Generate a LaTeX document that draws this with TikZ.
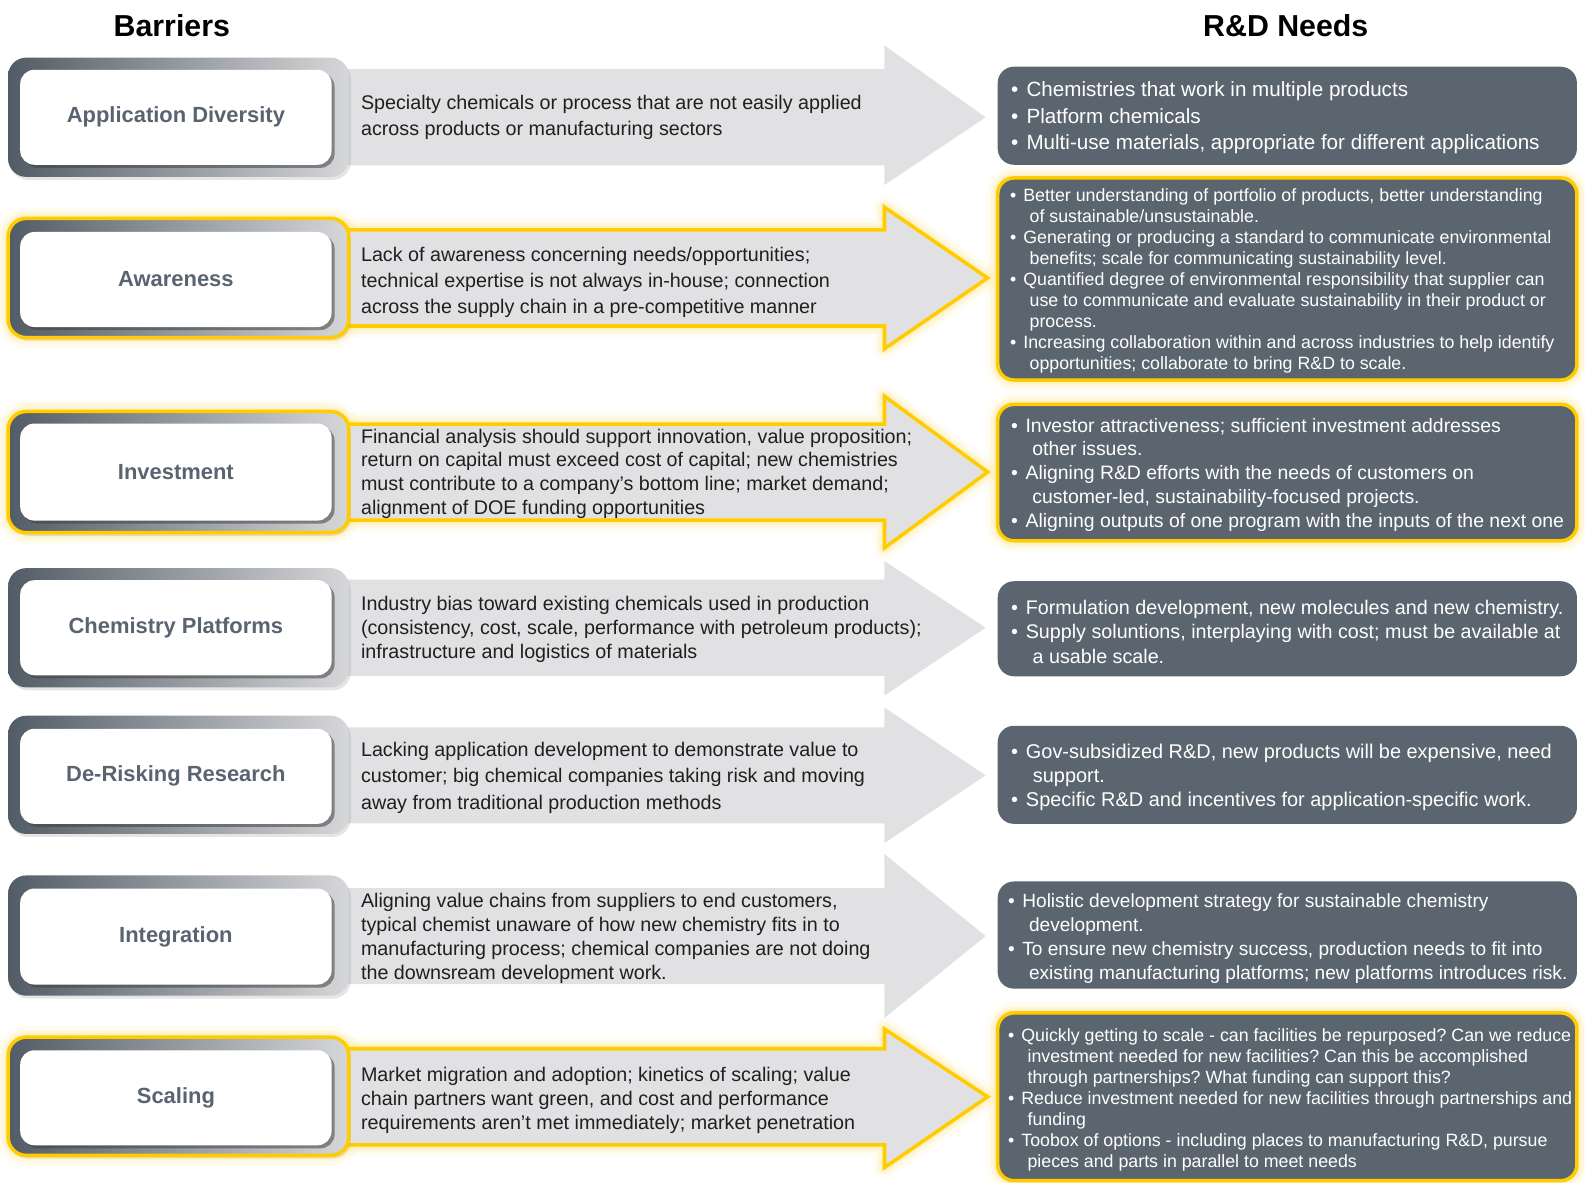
\documentclass[tikz,border=0pt]{standalone}
\usepackage{fontspec}
\setmainfont{Liberation Sans}
\usetikzlibrary{shadows}
\definecolor{slate}{HTML}{5B6570}
\definecolor{labgray}{HTML}{5A6470}
\definecolor{arrowgray}{HTML}{E1E1E3}
\definecolor{ylw}{HTML}{FFCC00}
\definecolor{glowc}{HTML}{FFE37A}
\definecolor{framedark}{HTML}{525C66}
\definecolor{framelight}{HTML}{D6D7D9}
\frenchspacing
\newcommand{\bul}{\textbullet\hspace{0.4em}}
\newcommand{\ind}{\hspace*{1.1em}}
\newcommand{\arrowshape}[4]{(330,#1-47.5) -- (875,#1-47.5) -- (875,#2) -- (#4,#1) -- (875,#3) -- (875,#1+47.5) -- (330,#1+47.5) -- cycle}
\tikzset{
 barframe/.style={rounded corners=18pt, left color=framedark, right color=framelight, minimum width=337pt, minimum height=118pt, inner sep=0pt, drop shadow={shadow xshift=2pt, shadow yshift=-3pt, opacity=0.2}},
 hlframe/.style={barframe, draw=ylw, line width=3.5pt},
 barlabel/.style={rounded corners=14pt, fill=white, minimum width=308pt, minimum height=94pt, font=\fontsize{21.7}{25}\selectfont\bfseries, text=labgray, drop shadow={shadow xshift=3pt, shadow yshift=-3pt, opacity=0.55, fill=black!75}},
 arr/.style={fill=arrowgray},
 hlarr/.style={fill=arrowgray, draw=ylw, line width=3.5pt, line join=miter},
 atext/.style={anchor=west, align=left, inner sep=0pt, text=black!88, font=\fontsize{19.5}{26}\selectfont},
 rdbox/.style={rounded corners=16pt, fill=slate, minimum width=573pt, inner sep=0pt},
 hlrd/.style={rdbox, draw=ylw, line width=3.5pt},
 rdtext/.style={anchor=west, align=left, inner sep=0pt, text=white},
 small/.style={font=\fontsize{17.6}{20.8}\selectfont},
 header/.style={font=\fontsize{30}{34}\selectfont\bfseries, text=black},
}
\begin{document}
\begin{tikzpicture}[x=1pt,y=-1pt]
\useasboundingbox (0,0) rectangle (1568,1170);
\fill[white] (0,0) rectangle (1568,1170);

\node[header] (h1) at (170,25) {Barriers};
\node[header] (h2) at (1272,25) {R\&D Needs};

% ---------- Row 1
\fill[arr] \arrowshape{116}{45}{183}{975};
\node[barframe] (f1) at (176.5,116) {};
\node[barlabel] (b1) at (174,116) {Application Diversity};
\node[atext] (t1) at (357,116) {Specialty chemicals or process that are not easily applied\\across products or manufacturing sectors};
\node[rdbox, minimum height=97pt] (r1) at (1273.5,114.5) {};
\node[rdtext, font=\fontsize{20.4}{26}\selectfont] (s1) at (1000,116.5) {\bul Chemistries that work in multiple products\\\bul Platform chemicals\\\bul Multi-use materials, appropriate for different applications};

% ---------- Row 2 (highlighted)
\foreach \w/\o in {22/0.10,14/0.16,8/0.22}{
 \draw[draw=glowc, line width=\w pt, opacity=\o, line join=round] \arrowshape{275}{205}{345}{977};
 \draw[draw=glowc, line width=\w pt, opacity=\o, rounded corners=18pt] (8,216) rectangle (345,334);
 \draw[draw=glowc, line width=\w pt, opacity=\o, rounded corners=16pt] (987,176) rectangle (1560,376);
}
\draw[hlarr] \arrowshape{275}{205}{345}{977};
\node[hlframe] (f2) at (176.5,275) {};
\node[barlabel] (b2) at (174,276.5) {Awareness};
\node[atext] (t2) at (357,279.5) {Lack of awareness concerning needs/opportunities;\\technical expertise is not always in-house; connection\\across the supply chain in a pre-competitive manner};
\node[hlrd, minimum height=200pt] (r2) at (1273.5,276) {};
\node[rdtext, small] (s2) at (999,278) {\bul Better understanding of portfolio of products, better understanding\\\ind of sustainable/unsustainable.\\\bul Generating or producing a standard to communicate environmental\\\ind benefits; scale for communicating sustainability level.\\\bul Quantified degree of environmental responsibility that supplier can\\\ind use to communicate and evaluate sustainability in their product or\\\ind process.\\\bul Increasing collaboration within and across industries to help identify\\\ind opportunities; collaborate to bring R\&D to scale.};

% ---------- Row 3 (highlighted)
\foreach \w/\o in {22/0.10,14/0.16,8/0.22}{
 \draw[draw=glowc, line width=\w pt, opacity=\o, line join=round] \arrowshape{467}{392}{542}{977};
 \draw[draw=glowc, line width=\w pt, opacity=\o, rounded corners=18pt] (8,407) rectangle (345,527);
 \draw[draw=glowc, line width=\w pt, opacity=\o, rounded corners=16pt] (987,400) rectangle (1560,535);
}
\draw[hlarr] \arrowshape{467}{392}{542}{977};
\node[hlframe, minimum height=120pt] (f3) at (176.5,467) {};
\node[barlabel, minimum height=96pt] (b3) at (174,467) {Investment};
\node[atext, font=\fontsize{19.5}{23.5}\selectfont] (t3) at (357,468.5) {Financial analysis should support innovation, value proposition;\\return on capital must exceed cost of capital; new chemistries\\must contribute to a company's bottom line; market demand;\\alignment of DOE funding opportunities};
\node[hlrd, minimum height=135pt] (r3) at (1273.5,467.5) {};
\node[rdtext, font=\fontsize{19.2}{23.5}\selectfont] (s3) at (1000,469.5) {\bul Investor attractiveness; sufficient investment addresses\\\ind other issues.\\\bul Aligning R\&D efforts with the needs of customers on\\\ind customer-led, sustainability-focused projects.\\\bul Aligning outputs of one program with the inputs of the next one};

% ---------- Row 4
\fill[arr] \arrowshape{621}{555}{688}{975};
\node[barframe] (f4) at (176.5,621) {};
\node[barlabel] (b4) at (174,621) {Chemistry Platforms};
\node[atext, font=\fontsize{19.5}{23.5}\selectfont] (t4) at (357,622.5) {Industry bias toward existing chemicals used in production\\(consistency, cost, scale, performance with petroleum products);\\infrastructure and logistics of materials};
\node[rdbox, minimum height=94pt] (r4) at (1273.5,622) {};
\node[rdtext, font=\fontsize{19.5}{24}\selectfont] (s4) at (1000,625) {\bul Formulation development, new molecules and new chemistry.\\\bul Supply soluntions, interplaying with cost; must be available at\\\ind a usable scale.};

% ---------- Row 5
\fill[arr] \arrowshape{767}{700}{834}{975};
\node[barframe, minimum height=117pt] (f5) at (176.5,766.5) {};
\node[barlabel] (b5) at (174,768) {De-Risking Research};
\node[atext] (t5) at (357,769.5) {Lacking application development to demonstrate value to\\customer; big chemical companies taking risk and moving\\away from traditional production methods};
\node[rdbox, minimum height=97pt] (r5) at (1273.5,766.5) {};
\node[rdtext, font=\fontsize{19.7}{23.5}\selectfont] (s5) at (1000,769) {\bul Gov-subsidized R\&D, new products will be expensive, need\\\ind support.\\\bul Specific R\&D and incentives for application-specific work.};

% ---------- Row 6
\fill[arr] \arrowshape{926}{845}{1007}{975};
\node[barframe, minimum height=119pt] (f6) at (176.5,925.5) {};
\node[barlabel, minimum height=95pt] (b6) at (174,926.5) {Integration};
\node[atext, font=\fontsize{19.5}{23.7}\selectfont] (t6) at (357,928.5) {Aligning value chains from suppliers to end customers,\\typical chemist unaware of how new chemistry fits in to\\manufacturing process; chemical companies are not doing\\the downsream development work.};
\node[rdbox, minimum height=106pt] (r6) at (1273.5,925) {};
\node[rdtext, font=\fontsize{18.9}{23.7}\selectfont] (s6) at (997,928.5) {\bul Holistic development strategy for sustainable chemistry\\\ind development.\\\bul To ensure new chemistry success, production needs to fit into\\\ind existing manufacturing platforms; new platforms introduces risk.};

% ---------- Row 7 (highlighted)
\foreach \w/\o in {22/0.10,14/0.16,8/0.22}{
 \draw[draw=glowc, line width=\w pt, opacity=\o, line join=round] \arrowshape{1085}{1018}{1155}{977};
 \draw[draw=glowc, line width=\w pt, opacity=\o, rounded corners=18pt] (8,1026) rectangle (345,1143);
 \draw[draw=glowc, line width=\w pt, opacity=\o, rounded corners=16pt] (987,1002) rectangle (1560,1168);
}
\draw[hlarr] \arrowshape{1085}{1018}{1155}{977};
\node[hlframe, minimum height=117pt] (f7) at (176.5,1084.5) {};
\node[barlabel] (b7) at (174,1086) {Scaling};
\node[atext, font=\fontsize{19.5}{23.5}\selectfont] (t7) at (357,1088.5) {Market migration and adoption; kinetics of scaling; value\\chain partners want green, and cost and performance\\requirements aren't met immediately; market penetration};
\node[hlrd, minimum height=166pt] (r7) at (1273.5,1085) {};
\node[rdtext, small] (s7) at (997,1088) {\bul Quickly getting to scale - can facilities be repurposed? Can we reduce\\\ind investment needed for new facilities? Can this be accomplished\\\ind through partnerships? What funding can support this?\\\bul Reduce investment needed for new facilities through partnerships and\\\ind funding\\\bul Toobox of options - including places to manufacturing R\&D, pursue\\\ind pieces and parts in parallel to meet needs};
\end{tikzpicture}
\end{document}
